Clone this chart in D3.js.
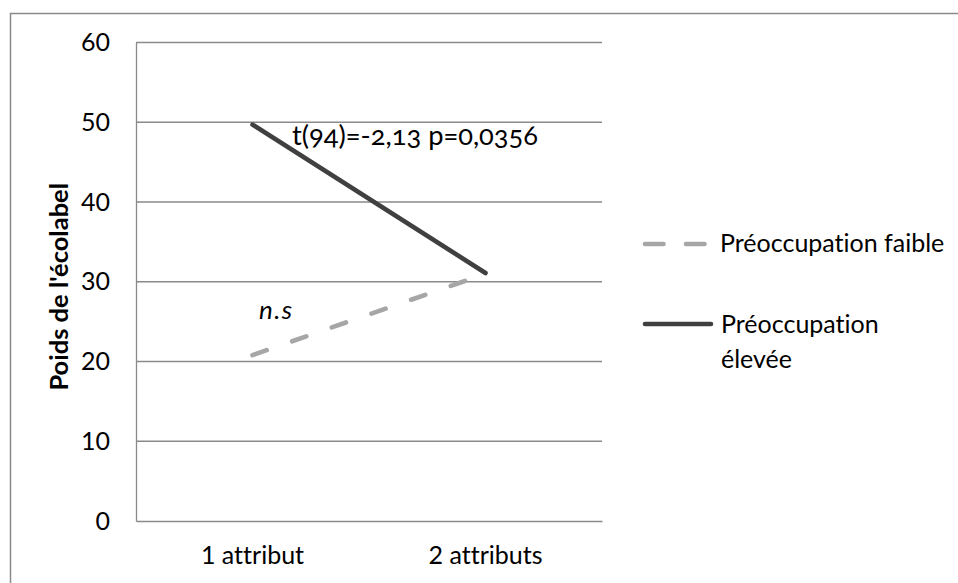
<!DOCTYPE html>
<html><head><meta charset="utf-8">
<script src="https://cdn.jsdelivr.net/npm/d3@7"></script>
<style>
html,body{margin:0;padding:0;background:#fff;}
svg{display:block;font-family:Lato,"Open Sans",sans-serif;font-variant-ligatures:none;}
</style></head>
<body>
<svg id="c" width="958" height="583"></svg>
<script>
const categories = ["1 attribut", "2 attributs"];
const seriesNames = ["Préoccupation faible", "Préoccupation élevée"];
const faible = [20.8, 31.0];
const elevee = [49.7, 31.1];
const yTicks = [0, 10, 20, 30, 40, 50, 60];
const yTitle = "Poids de l'écolabel";
const annotT = "t(94)=-2,13 p=0,0356";
const annotNS = "n.s";

const svg = d3.select("#c");
const plot = {l: 136, r: 602, t: 42.5, b: 521};
const FS = 25;

svg.append("rect").attr("x", 10.5).attr("y", 13.5).attr("width", 1000).attr("height", 1000)
  .attr("fill", "none").attr("stroke", "#8a8a8a").attr("stroke-width", 1.5);

const x = d3.scaleBand().domain(categories).range([plot.l, plot.r]);
const y = d3.scaleLinear().domain([0, 60]).range([plot.b, plot.t]);

// grid
svg.append("g").selectAll("line").data(yTicks.filter(d => d > 0)).join("line")
  .attr("x1", plot.l).attr("x2", plot.r)
  .attr("y1", d => y(d)).attr("y2", d => y(d))
  .attr("stroke", "#8a8a8a").attr("stroke-width", 1.3);

// y axis
const ya = svg.append("g").attr("transform", `translate(${plot.l},0)`)
  .call(d3.axisLeft(y).tickValues(yTicks).tickSize(0).tickPadding(26));
ya.select(".domain").attr("stroke", "#8a8a8a").attr("stroke-width", 1.3);
ya.selectAll("text").attr("font-size", FS).attr("fill", "#000").attr("font-family", "Lato");

// x axis
const xa = svg.append("g").attr("transform", `translate(0,${plot.b})`)
  .call(d3.axisBottom(x).tickSize(0).tickPadding(25));
xa.select(".domain").attr("stroke", "#8a8a8a").attr("stroke-width", 1.3);
xa.selectAll("text").attr("font-size", FS).attr("fill", "#000").attr("font-family", "Lato");

// y title
svg.append("text").attr("transform", `translate(68,${(plot.t + plot.b) / 2 + 5}) rotate(-90)`)
  .attr("text-anchor", "middle").attr("font-size", 25.5).attr("font-weight", "bold")
  .attr("font-family", "Lato").text(yTitle);

const cx = c => x(c) + x.bandwidth() / 2;
const line = d3.line().x((d, i) => cx(categories[i])).y(d => y(d));

svg.append("path").datum(faible).attr("d", line).attr("fill", "none")
  .attr("stroke", "#a6a6a6").attr("stroke-width", 4.6).attr("stroke-linecap", "round")
  .attr("stroke-dasharray", "15,27");
svg.append("path").datum(elevee).attr("d", line).attr("fill", "none")
  .attr("stroke", "#404040").attr("stroke-width", 4.6).attr("stroke-linecap", "round");

// annotations
svg.append("text").attr("x", 292).attr("y", 145).attr("font-size", 27.3)
  .attr("font-family", "Lato").style("font-variant-numeric", "oldstyle-nums")
  .attr("fill", "#000").text(annotT);
svg.append("text").attr("x", 259).attr("y", 319).attr("font-size", 26)
  .attr("font-family", "Lato").attr("font-style", "italic").attr("letter-spacing", 1.5)
  .attr("fill", "#000").text(annotNS);

// legend
const lg = svg.append("g");
lg.append("line").attr("x1", 645).attr("x2", 707).attr("y1", 244).attr("y2", 244)
  .attr("stroke", "#a6a6a6").attr("stroke-width", 4.6).attr("stroke-linecap", "round")
  .attr("stroke-dasharray", "18.5,22.5");
lg.append("text").attr("x", 720).attr("y", 252).attr("font-size", FS).attr("font-family", "Lato")
  .attr("fill", "#000").text(seriesNames[0]);
lg.append("line").attr("x1", 645).attr("x2", 711).attr("y1", 324).attr("y2", 324)
  .attr("stroke", "#404040").attr("stroke-width", 4.6).attr("stroke-linecap", "round");
const t2 = lg.append("text").attr("x", 721).attr("y", 333).attr("font-size", FS)
  .attr("font-family", "Lato").attr("fill", "#000");
const parts = seriesNames[1].split(" ");
t2.append("tspan").attr("x", 721).attr("dy", 0).text(parts[0]);
t2.append("tspan").attr("x", 721).attr("dy", 35).text(parts[1]);
</script>
</body></html>
